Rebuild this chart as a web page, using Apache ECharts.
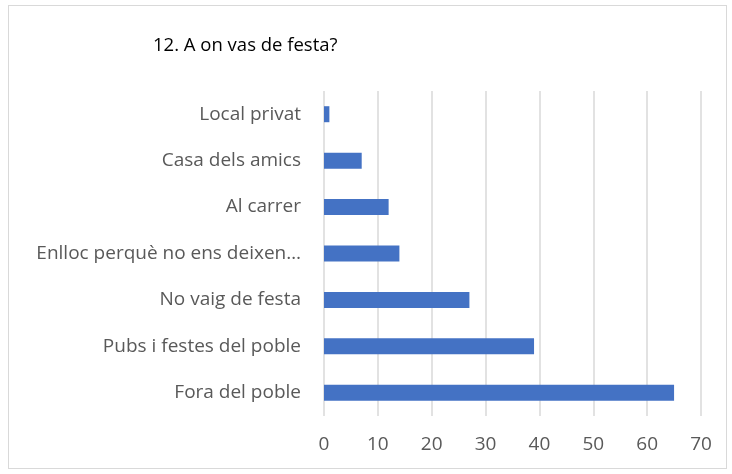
<!DOCTYPE html>
<html>
<head>
<meta charset="utf-8">
<script src="https://cdn.jsdelivr.net/npm/echarts@6/dist/echarts.min.js"></script>
<style>
  html, body { margin: 0; padding: 0; background: #fff; }
  #frame { position: absolute; left: 8px; top: 5px; width: 719px; height: 464px; border: 1px solid #d9d9d9; box-sizing: border-box; }
  #chart { position: absolute; left: 0; top: 0; width: 732px; height: 474px; }
</style>
</head>
<body>
<div id="frame"></div>
<div id="chart"></div>
<script>
// categories de baix a dalt
const categories = [
  'Fora del poble',
  'Pubs i festes del poble',
  'No vaig de festa',
  'Enlloc perquè no ens deixen…',
  'Al carrer',
  'Casa dels amics',
  'Local privat'
]
const values = [65, 39, 27, 14, 12, 7, 1]
const ticks = [0, 10, 20, 30, 40, 50, 60, 70]

const chart = echarts.init(document.getElementById('chart'))
chart.setOption({
  animation: false,
  title: {
    text: '12. A on vas de festa?',
    left: 148,
    top: 31,
    textStyle: { fontFamily: 'Open Sans', fontSize: 18.5, fontWeight: 'normal', color: '#000' }
  },
  grid: { left: 324, right: 31, top: 91, bottom: 58 },
  xAxis: {
    type: 'value',
    min: ticks[0],
    max: ticks[ticks.length - 1],
    interval: 10,
    axisLine: { show: false },
    axisTick: { show: false },
    splitLine: { lineStyle: { color: '#d9d9d9', width: 1.5 } },
    axisLabel: { color: '#595959', fontFamily: 'Open Sans', fontSize: 19, margin: 19 }
  },
  yAxis: {
    type: 'category',
    data: categories,
    axisLine: { show: false },
    axisTick: { show: false },
    axisLabel: { color: '#595959', fontFamily: 'Open Sans', fontSize: 19, margin: 23 }
  },
  series: [{
    type: 'bar',
    data: values,
    barWidth: 16,
    itemStyle: { color: '#4472C4' }
  }]
})
</script>
</body>
</html>
